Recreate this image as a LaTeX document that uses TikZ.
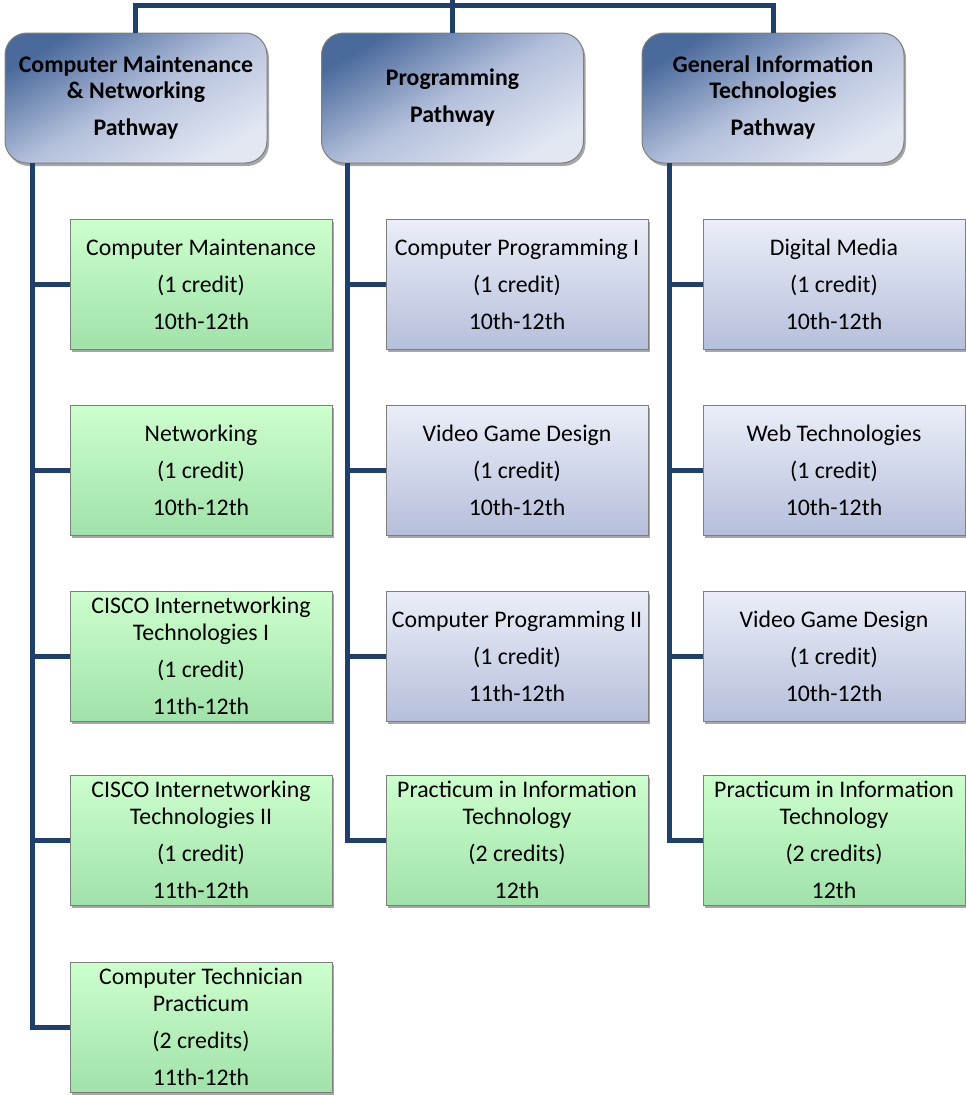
\documentclass[tikz,border=0pt]{standalone}
\usepackage{fontspec}
\setmainfont{Carlito}
\usetikzlibrary{shadows}
\definecolor{linkblue}{HTML}{1F3F6E}
\definecolor{hdark}{HTML}{4A6A9C}
\definecolor{hmid}{HTML}{B4C0DB}
\definecolor{hlight}{HTML}{E2E7F2}
\definecolor{btop}{HTML}{EBEEF8}
\definecolor{bbot}{HTML}{B6BFDB}
\definecolor{gtop}{HTML}{CCFFCC}
\definecolor{gbot}{HTML}{A0E2AA}
\definecolor{edgegray}{HTML}{7F7F7F}
\tikzset{
  conn/.style={draw=linkblue, line width=5pt, line join=miter},
  boxshadow/.style={drop shadow={shadow xshift=2pt, shadow yshift=-3pt, opacity=0.35, fill=black}},
  pathhead/.style={draw=edgegray, line width=1pt, rounded corners=22pt,
    minimum width=262pt, minimum height=130pt, inner sep=0pt,
    top color=hdark, bottom color=hlight, middle color=hmid, shading angle=30,
    align=center, font=\fontsize{23.8}{26}\selectfont\bfseries, boxshadow},
  course/.style={draw=edgegray, line width=1pt,
    minimum width=262pt, minimum height=130pt, inner sep=0pt,
    align=center, font=\fontsize{23.8}{27}\selectfont, boxshadow},
  greenbox/.style={course, top color=gtop, bottom color=gbot},
  bluebox/.style={course, top color=btop, bottom color=bbot},
}
\begin{document}
\begin{tikzpicture}[x=1pt, y=-1pt]
\useasboundingbox (0,0) rectangle (966,1095);

% pathway headers
\node[pathhead] (h1) at (136,98) {Computer Maintenance\\\& Networking\\[11pt]Pathway};
\node[pathhead] (h2) at (452.5,98) {Programming\\[11pt]Pathway};
\node[pathhead] (h3) at (773,98) {General Information\\Technologies\\[11pt]Pathway};

% Computer Maintenance & Networking courses
\node[greenbox] (a1) at (201,284) {Computer Maintenance\\[10pt](1 credit)\\[10pt]10th-12th};
\node[greenbox] (a2) at (201,470) {Networking\\[10pt](1 credit)\\[10pt]10th-12th};
\node[greenbox] (a3) at (201,656) {CISCO Internetworking\\Technologies I\\[10pt](1 credit)\\[10pt]11th-12th};
\node[greenbox] (a4) at (201,840) {CISCO Internetworking\\Technologies II\\[10pt](1 credit)\\[10pt]11th-12th};
\node[greenbox] (a5) at (201,1027) {Computer Technician\\Practicum\\[10pt](2 credits)\\[10pt]11th-12th};

% Programming courses
\node[bluebox] (b1) at (517,284) {Computer Programming I\\[10pt](1 credit)\\[10pt]10th-12th};
\node[bluebox] (b2) at (517,470) {Video Game Design\\[10pt](1 credit)\\[10pt]10th-12th};
\node[bluebox] (b3) at (517,656) {Computer Programming II\\[10pt](1 credit)\\[10pt]11th-12th};
\node[greenbox] (b4) at (517,840) {Practicum in Information\\Technology\\[10pt](2 credits)\\[10pt]12th};

% General Information Technologies courses
\node[bluebox] (c1) at (834,284) {Digital Media\\[10pt](1 credit)\\[10pt]10th-12th};
\node[bluebox] (c2) at (834,470) {Web Technologies\\[10pt](1 credit)\\[10pt]10th-12th};
\node[bluebox] (c3) at (834,656) {Video Game Design\\[10pt](1 credit)\\[10pt]10th-12th};
\node[greenbox] (c4) at (834,840) {Practicum in Information\\Technology\\[10pt](2 credits)\\[10pt]12th};

% top bus joining the three pathways
\coordinate (root) at (452.5,0);
\coordinate (bus) at (452.5,5);
\coordinate (h1top) at (135,33);
\draw[conn] (h1top) |- (bus) -| (h3.north);
\draw[conn] (root) -- (h2.north);

% spines under each pathway
\coordinate (s1) at (32,163);
\coordinate (s2) at (347,163);
\coordinate (s3) at (669,163);
\draw[conn] (s1) |- (a5.west);
\foreach \n in {a1,a2,a3,a4} \draw[conn] (s1 |- \n.west) -- (\n.west);
\draw[conn] (s2) |- (b4.west);
\foreach \n in {b1,b2,b3} \draw[conn] (s2 |- \n.west) -- (\n.west);
\draw[conn] (s3) |- (c4.west);
\foreach \n in {c1,c2,c3} \draw[conn] (s3 |- \n.west) -- (\n.west);
\end{tikzpicture}
\end{document}
